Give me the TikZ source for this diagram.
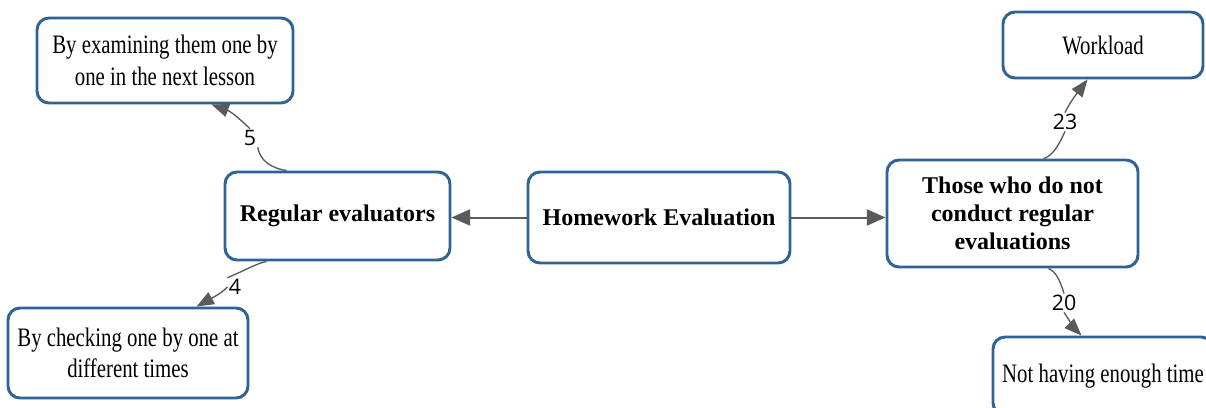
\documentclass[tikz,border=0pt]{standalone}
\usepackage{fontspec}
\setmainfont{Liberation Serif}
\newfontfamily\boxfont[FakeStretch=0.78]{Liberation Serif}
\newfontfamily\numfont{Open Sans}
\usetikzlibrary{arrows.meta}
\definecolor{boxblue}{HTML}{2F6396}
\definecolor{arrgray}{HTML}{5A5A5A}
\tikzset{
  box/.style={draw=boxblue, line width=2.2pt, rounded corners=9pt, fill=white,
    align=center, inner sep=2pt, font=\boxfont\fontsize{20}{23.5}\selectfont},
  boldbox/.style={box, font=\rmfamily\fontsize{18}{21}\selectfont\bfseries},
  conn/.style={draw=arrgray, line width=1pt},
  mainconn/.style={draw=arrgray, line width=1.5pt, -{Triangle[length=14pt,width=12pt]}},
  tipconn/.style={conn, -{Triangle[length=13pt,width=10pt]}},
  num/.style={font=\numfont\fontsize{16}{18}\selectfont, inner sep=1pt, text=black}
}
\begin{document}
\begin{tikzpicture}[x=0.75pt,y=-0.75pt]
\useasboundingbox (0,0) rectangle (1206,407);
\clip (0,0) rectangle (1206,407);
\fill[white] (0,0) rectangle (1206,407);

% nodes
\node[box, minimum width=256*0.75pt, minimum height=85*0.75pt] (b1) at (165,60.5)
  {By examining them one by\\one in the next lesson};
\node[boldbox, minimum width=225*0.75pt, minimum height=88*0.75pt] (reg) at (337.5,216)
  {Regular evaluators};
\node[box, minimum width=240*0.75pt, minimum height=90*0.75pt] (b2) at (128,353)
  {By checking one by one at\\different times};
\node[boldbox, minimum width=262*0.75pt, minimum height=91*0.75pt] (hw) at (659,217.5)
  {Homework Evaluation};
\node[boldbox, minimum width=251*0.75pt, minimum height=107*0.75pt] (non) at (1012.5,213.5)
  {Those who do not\\conduct regular\\evaluations};
\node[box, minimum width=200*0.75pt, minimum height=66*0.75pt] (wl) at (1103,45)
  {Workload};
\node[box, minimum width=220*0.75pt, minimum height=78*0.75pt] (nt) at (1103,376)
  {Not having enough time};

% main arrows
\draw[mainconn] (hw.west) -- (hw.west -| reg.east);
\draw[mainconn] (hw.east) -- (hw.east -| non.west);

% labels
\node[num] (l5) at (250,138) {5};
\node[num] (l4) at (235,287) {4};
\node[num] (l23) at (1065,122) {23};
\node[num] (l20) at (1064,303) {20};

% curved connectors
\draw[conn] ([xshift=63*0.75pt]reg.north west) .. controls (270,168) and (260,160) .. (l5.south east);
\draw[tipconn] (l5.north) .. controls (243,122) and (232,112) .. ([xshift=176*0.75pt]b1.south west);

\draw[conn] ([xshift=43*0.75pt]reg.south west) .. controls (255,264) and (246,270) .. (l4.north west);
\draw[tipconn] (l4.west) .. controls (222,293) and (212,298) .. ([xshift=190*0.75pt]b2.north west);

\draw[conn] ([xshift=158*0.75pt]non.north west) .. controls (1052,156) and (1058,147) .. (l23.south);
\draw[tipconn] (l23.north) .. controls (1070,102) and (1078,92) .. ([xshift=86*0.75pt]wl.south west);

\draw[conn] ([xshift=163*0.75pt]non.south west) .. controls (1056,272) and (1060,280) .. (l20.north);
\draw[tipconn] (l20.south) .. controls (1068,318) and (1074,328) .. ([xshift=90*0.75pt]nt.north west);
\end{tikzpicture}
\end{document}
